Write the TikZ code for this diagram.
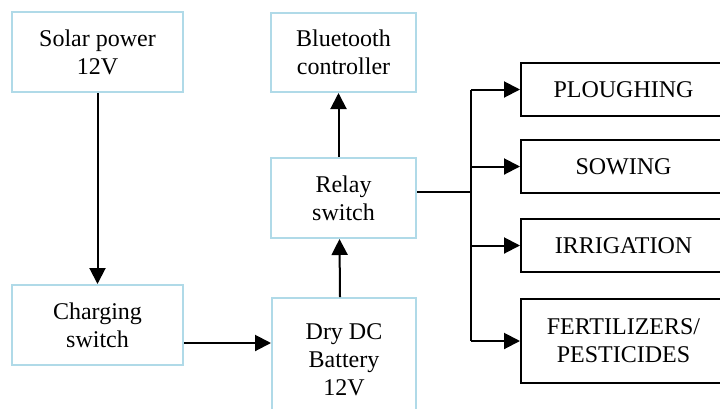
\documentclass[tikz,border=0pt]{standalone}
\usepackage{fontspec}
\setmainfont{Liberation Serif}
\usetikzlibrary{arrows.meta}
\definecolor{boxblue}{RGB}{176,218,232}
\tikzset{
  bluebox/.style={draw=boxblue, line width=2pt, fill=white, align=center, inner sep=0pt,
    font=\fontsize{24}{28}\selectfont},
  blackbox/.style={draw=black, line width=2pt, fill=white, align=center, inner sep=0pt,
    font=\fontsize{24}{28}\selectfont},
  arr/.style={line width=2pt, -{Triangle[length=16pt,width=16pt]}},
  ln/.style={line width=2pt}
}
\begin{document}
\begin{tikzpicture}[x=1pt,y=-1pt]
\useasboundingbox (0,0) rectangle (720,408);
\clip (0,0) rectangle (720,408);
\fill[white] (0,0) rectangle (720,408);
\node[bluebox, minimum width=171pt, minimum height=80pt] (solar) at (97.5,52) {Solar power\\12V};
\node[bluebox, minimum width=145pt, minimum height=79pt] (bt) at (343.5,52.5) {Bluetooth\\controller};
\node[bluebox, minimum width=145pt, minimum height=80pt] (relay) at (343.5,198) {Relay\\switch};
\node[bluebox, minimum width=171pt, minimum height=80pt] (charge) at (97.5,325) {Charging\\switch};
\node[bluebox, minimum width=144pt, minimum height=124pt] (dry) at (344,360) {Dry DC\\Battery\\12V};
\node[blackbox, minimum width=205pt, minimum height=53pt] (plough) at (623.5,89.5) {PLOUGHING};
\node[blackbox, minimum width=205pt, minimum height=53pt] (sow) at (623.5,166.5) {SOWING};
\node[blackbox, minimum width=205pt, minimum height=53pt] (irr) at (623.5,245.5) {IRRIGATION};
\node[blackbox, minimum width=205pt, minimum height=84pt] (fert) at (623.5,341) {FERTILIZERS/\\PESTICIDES};
\coordinate (bus) at (471,192);
\draw[arr] (solar.south) -- (charge.north);
\draw[arr] ([yshift=-18pt]charge.east) -- ([yshift=-18pt]charge.east -| dry.west);
\draw[arr] ([xshift=-4pt]dry.north) -- ([xshift=-4pt]relay.south);
\draw[arr] ([xshift=-5pt]relay.north) -- ([xshift=-5pt]bt.south);
\draw[ln] (relay.east |- bus) -- (bus);
\draw[ln] (bus |- plough.west) -- (bus |- fert.west);
\draw[arr] (bus |- plough.west) -- (plough.west);
\draw[arr] (bus |- sow.west) -- (sow.west);
\draw[arr] (bus |- irr.west) -- (irr.west);
\draw[arr] (bus |- fert.west) -- (fert.west);
\end{tikzpicture}
\end{document}
